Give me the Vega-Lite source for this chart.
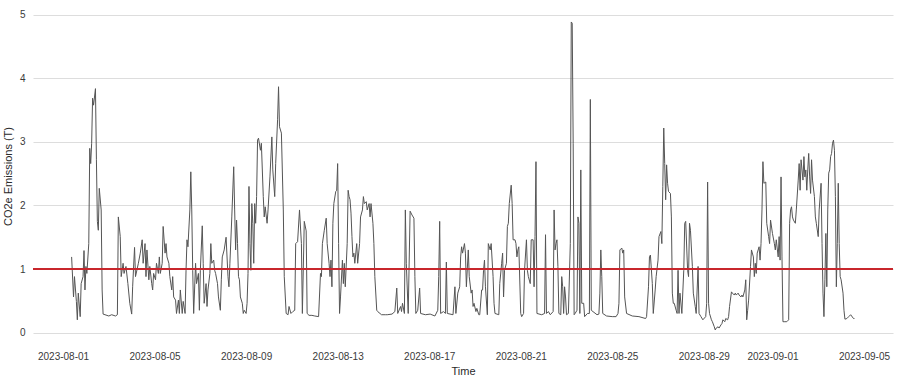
{
"$schema":"https://vega.github.io/schema/vega-lite/v6.json",
"width":860,"height":344,
"autosize":{"type":"none"},
"padding":{"left":33,"top":4,"right":7,"bottom":36},
"background":"white",
"config":{"view":{"stroke":null},"font":"Liberation Sans","axis":{"labelFont":"Liberation Sans","titleFont":"Liberation Sans","labelColor":"#3a3a3a","titleColor":"#2a2a2a","labelFontSize":10,"titleFontSize":11,"titleFontWeight":"normal"}},
"data":{"values":[
{"time":"2023-08-01T09:00","co2":1.19},{"time":"2023-08-01T11:00","co2":0.56},{"time":"2023-08-01T12:00","co2":0.88},{"time":"2023-08-01T14:00","co2":0.49},{"time":"2023-08-01T15:00","co2":0.20},{"time":"2023-08-01T16:00","co2":0.62},{"time":"2023-08-01T18:00","co2":0.25},{"time":"2023-08-01T19:00","co2":0.77},{"time":"2023-08-01T21:00","co2":0.88},{"time":"2023-08-01T22:00","co2":1.29},{"time":"2023-08-01T23:00","co2":0.67},
{"time":"2023-08-02T00:00","co2":1.04},{"time":"2023-08-02T01:00","co2":0.93},{"time":"2023-08-02T03:00","co2":1.40},{"time":"2023-08-02T04:00","co2":2.90},{"time":"2023-08-02T05:00","co2":2.66},{"time":"2023-08-02T06:00","co2":2.98},{"time":"2023-08-02T07:00","co2":3.69},{"time":"2023-08-02T08:00","co2":3.58},{"time":"2023-08-02T10:00","co2":3.84},{"time":"2023-08-02T11:00","co2":2.72},{"time":"2023-08-02T12:00","co2":1.75},{"time":"2023-08-02T13:00","co2":1.61},{"time":"2023-08-02T14:00","co2":2.27},{"time":"2023-08-02T16:00","co2":1.93},{"time":"2023-08-02T17:00","co2":0.67},{"time":"2023-08-02T18:00","co2":0.29},{"time":"2023-08-02T20:00","co2":0.28},
{"time":"2023-08-03T00:00","co2":0.26},{"time":"2023-08-03T03:00","co2":0.28},{"time":"2023-08-03T07:00","co2":0.26},{"time":"2023-08-03T09:00","co2":0.28},{"time":"2023-08-03T10:00","co2":1.82},{"time":"2023-08-03T12:00","co2":1.51},{"time":"2023-08-03T13:00","co2":0.88},{"time":"2023-08-03T15:00","co2":1.09},{"time":"2023-08-03T16:00","co2":0.93},{"time":"2023-08-03T18:00","co2":1.04},{"time":"2023-08-03T20:00","co2":0.77},{"time":"2023-08-03T22:00","co2":0.46},
{"time":"2023-08-04T00:00","co2":0.29},{"time":"2023-08-04T01:00","co2":0.72},{"time":"2023-08-04T03:00","co2":1.34},{"time":"2023-08-04T04:00","co2":0.88},{"time":"2023-08-04T07:00","co2":1.09},{"time":"2023-08-04T09:00","co2":1.25},{"time":"2023-08-04T11:00","co2":1.46},{"time":"2023-08-04T12:00","co2":1.09},{"time":"2023-08-04T14:00","co2":1.40},{"time":"2023-08-04T15:00","co2":0.88},{"time":"2023-08-04T16:00","co2":1.30},{"time":"2023-08-04T18:00","co2":0.83},{"time":"2023-08-04T19:00","co2":1.04},{"time":"2023-08-04T21:00","co2":0.77},{"time":"2023-08-04T22:00","co2":0.67},{"time":"2023-08-04T23:00","co2":0.93},
{"time":"2023-08-05T01:00","co2":0.83},{"time":"2023-08-05T02:00","co2":1.09},{"time":"2023-08-05T04:00","co2":0.93},{"time":"2023-08-05T05:00","co2":1.19},{"time":"2023-08-05T06:00","co2":0.93},{"time":"2023-08-05T08:00","co2":1.09},{"time":"2023-08-05T09:00","co2":1.67},{"time":"2023-08-05T11:00","co2":1.25},{"time":"2023-08-05T12:00","co2":1.40},{"time":"2023-08-05T13:00","co2":1.19},{"time":"2023-08-05T15:00","co2":1.09},{"time":"2023-08-05T16:00","co2":0.88},{"time":"2023-08-05T18:00","co2":0.67},{"time":"2023-08-05T19:00","co2":0.88},{"time":"2023-08-05T20:00","co2":0.56},{"time":"2023-08-05T22:00","co2":0.51},{"time":"2023-08-05T23:00","co2":0.30},
{"time":"2023-08-06T01:00","co2":0.51},{"time":"2023-08-06T02:00","co2":0.30},{"time":"2023-08-06T03:00","co2":0.67},{"time":"2023-08-06T05:00","co2":0.30},{"time":"2023-08-06T06:00","co2":0.49},{"time":"2023-08-06T08:00","co2":0.30},{"time":"2023-08-06T09:00","co2":0.98},{"time":"2023-08-06T10:00","co2":1.46},{"time":"2023-08-06T11:00","co2":1.35},{"time":"2023-08-06T13:00","co2":1.93},{"time":"2023-08-06T14:00","co2":2.53},{"time":"2023-08-06T15:00","co2":1.93},{"time":"2023-08-06T16:00","co2":0.98},{"time":"2023-08-06T17:00","co2":0.30},{"time":"2023-08-06T19:00","co2":1.09},{"time":"2023-08-06T20:00","co2":0.77},{"time":"2023-08-06T22:00","co2":0.93},{"time":"2023-08-06T23:00","co2":0.35},
{"time":"2023-08-07T00:00","co2":0.98},{"time":"2023-08-07T02:00","co2":1.68},{"time":"2023-08-07T03:00","co2":1.09},{"time":"2023-08-07T04:00","co2":0.46},{"time":"2023-08-07T06:00","co2":0.77},{"time":"2023-08-07T07:00","co2":0.41},{"time":"2023-08-07T08:00","co2":0.67},{"time":"2023-08-07T10:00","co2":0.93},{"time":"2023-08-07T11:00","co2":1.40},{"time":"2023-08-07T12:00","co2":1.09},{"time":"2023-08-07T14:00","co2":1.14},{"time":"2023-08-07T15:00","co2":0.98},{"time":"2023-08-07T16:00","co2":0.93},{"time":"2023-08-07T18:00","co2":0.77},{"time":"2023-08-07T19:00","co2":0.56},{"time":"2023-08-07T21:00","co2":0.35},{"time":"2023-08-07T22:00","co2":0.83},{"time":"2023-08-07T23:00","co2":1.19},
{"time":"2023-08-08T01:00","co2":1.30},{"time":"2023-08-08T03:00","co2":1.50},{"time":"2023-08-08T05:00","co2":0.88},{"time":"2023-08-08T06:00","co2":0.72},{"time":"2023-08-08T07:00","co2":1.09},{"time":"2023-08-08T09:00","co2":1.82},{"time":"2023-08-08T11:00","co2":2.61},{"time":"2023-08-08T12:00","co2":1.93},{"time":"2023-08-08T13:00","co2":1.30},{"time":"2023-08-08T14:00","co2":1.77},{"time":"2023-08-08T15:00","co2":1.40},{"time":"2023-08-08T16:00","co2":0.88},{"time":"2023-08-08T17:00","co2":0.83},{"time":"2023-08-08T18:00","co2":0.56},{"time":"2023-08-08T20:00","co2":0.46},{"time":"2023-08-08T21:00","co2":0.30},{"time":"2023-08-08T22:00","co2":0.35},
{"time":"2023-08-09T00:00","co2":0.30},{"time":"2023-08-09T01:00","co2":0.46},{"time":"2023-08-09T02:00","co2":0.93},{"time":"2023-08-09T03:00","co2":2.30},{"time":"2023-08-09T04:00","co2":1.40},{"time":"2023-08-09T05:00","co2":0.98},{"time":"2023-08-09T06:00","co2":2.03},{"time":"2023-08-09T07:00","co2":1.72},{"time":"2023-08-09T08:00","co2":1.09},{"time":"2023-08-09T09:00","co2":2.03},{"time":"2023-08-09T10:00","co2":1.72},{"time":"2023-08-09T11:00","co2":2.14},{"time":"2023-08-09T12:00","co2":3.03},{"time":"2023-08-09T13:00","co2":3.06},{"time":"2023-08-09T15:00","co2":2.87},{"time":"2023-08-09T16:00","co2":2.98},{"time":"2023-08-09T18:00","co2":2.14},{"time":"2023-08-09T19:00","co2":1.82},{"time":"2023-08-09T20:00","co2":1.98},{"time":"2023-08-09T22:00","co2":1.72},{"time":"2023-08-09T23:00","co2":1.93},
{"time":"2023-08-10T01:00","co2":2.45},{"time":"2023-08-10T03:00","co2":3.08},{"time":"2023-08-10T04:00","co2":2.56},{"time":"2023-08-10T06:00","co2":2.14},{"time":"2023-08-10T07:00","co2":2.66},{"time":"2023-08-10T09:00","co2":3.35},{"time":"2023-08-10T10:00","co2":3.87},{"time":"2023-08-10T11:00","co2":3.24},{"time":"2023-08-10T13:00","co2":3.14},{"time":"2023-08-10T15:00","co2":1.93},{"time":"2023-08-10T16:00","co2":0.88},{"time":"2023-08-10T18:00","co2":0.30},{"time":"2023-08-10T20:00","co2":0.28},{"time":"2023-08-10T21:00","co2":0.41},{"time":"2023-08-10T23:00","co2":0.30},
{"time":"2023-08-11T01:00","co2":0.33},{"time":"2023-08-11T03:00","co2":0.35},{"time":"2023-08-11T04:00","co2":1.40},{"time":"2023-08-11T06:00","co2":1.43},{"time":"2023-08-11T08:00","co2":1.93},{"time":"2023-08-11T10:00","co2":1.40},{"time":"2023-08-11T11:00","co2":0.30},{"time":"2023-08-11T13:00","co2":1.75},{"time":"2023-08-11T15:00","co2":1.60},{"time":"2023-08-11T16:00","co2":0.30},{"time":"2023-08-11T18:00","co2":0.27},{"time":"2023-08-11T21:00","co2":0.27},
{"time":"2023-08-12T00:00","co2":0.26},{"time":"2023-08-12T04:00","co2":0.25},{"time":"2023-08-12T06:00","co2":0.93},{"time":"2023-08-12T07:00","co2":0.88},{"time":"2023-08-12T08:00","co2":1.40},{"time":"2023-08-12T10:00","co2":1.61},{"time":"2023-08-12T12:00","co2":1.80},{"time":"2023-08-12T13:00","co2":1.40},{"time":"2023-08-12T15:00","co2":1.09},{"time":"2023-08-12T16:00","co2":0.88},{"time":"2023-08-12T17:00","co2":1.14},{"time":"2023-08-12T18:00","co2":0.72},{"time":"2023-08-12T19:00","co2":1.72},{"time":"2023-08-12T20:00","co2":2.03},{"time":"2023-08-12T22:00","co2":2.22},{"time":"2023-08-12T23:00","co2":2.24},
{"time":"2023-08-13T00:00","co2":2.66},{"time":"2023-08-13T01:00","co2":1.40},{"time":"2023-08-13T02:00","co2":0.30},{"time":"2023-08-13T03:00","co2":0.56},{"time":"2023-08-13T05:00","co2":1.14},{"time":"2023-08-13T06:00","co2":0.77},{"time":"2023-08-13T07:00","co2":1.09},{"time":"2023-08-13T08:00","co2":0.72},{"time":"2023-08-13T10:00","co2":1.40},{"time":"2023-08-13T11:00","co2":2.24},{"time":"2023-08-13T12:00","co2":2.14},{"time":"2023-08-13T13:00","co2":2.09},{"time":"2023-08-13T14:00","co2":1.88},{"time":"2023-08-13T15:00","co2":1.51},{"time":"2023-08-13T16:00","co2":1.19},{"time":"2023-08-13T17:00","co2":1.25},{"time":"2023-08-13T18:00","co2":1.09},{"time":"2023-08-13T20:00","co2":1.40},{"time":"2023-08-13T21:00","co2":1.09},{"time":"2023-08-13T23:00","co2":1.40},
{"time":"2023-08-14T00:00","co2":1.82},{"time":"2023-08-14T02:00","co2":1.93},{"time":"2023-08-14T03:00","co2":2.14},{"time":"2023-08-14T04:00","co2":2.03},{"time":"2023-08-14T06:00","co2":2.06},{"time":"2023-08-14T07:00","co2":1.93},{"time":"2023-08-14T09:00","co2":2.03},{"time":"2023-08-14T10:00","co2":1.82},{"time":"2023-08-14T11:00","co2":2.03},{"time":"2023-08-14T13:00","co2":1.72},{"time":"2023-08-14T14:00","co2":1.40},{"time":"2023-08-14T15:00","co2":0.88},{"time":"2023-08-14T17:00","co2":0.35},{"time":"2023-08-14T18:00","co2":0.33},{"time":"2023-08-14T22:00","co2":0.28},
{"time":"2023-08-15T02:00","co2":0.28},{"time":"2023-08-15T04:00","co2":0.28},{"time":"2023-08-15T09:00","co2":0.29},{"time":"2023-08-15T12:00","co2":0.33},{"time":"2023-08-15T14:00","co2":0.70},{"time":"2023-08-15T15:00","co2":0.30},{"time":"2023-08-15T18:00","co2":0.41},{"time":"2023-08-15T19:00","co2":0.33},{"time":"2023-08-15T20:00","co2":0.46},{"time":"2023-08-15T22:00","co2":0.30},{"time":"2023-08-15T23:00","co2":1.93},
{"time":"2023-08-16T00:00","co2":1.09},{"time":"2023-08-16T02:00","co2":0.30},{"time":"2023-08-16T04:00","co2":1.91},{"time":"2023-08-16T06:00","co2":1.85},{"time":"2023-08-16T08:00","co2":1.80},{"time":"2023-08-16T09:00","co2":0.88},{"time":"2023-08-16T10:00","co2":0.30},{"time":"2023-08-16T12:00","co2":0.35},{"time":"2023-08-16T14:00","co2":0.70},{"time":"2023-08-16T15:00","co2":0.30},{"time":"2023-08-16T20:00","co2":0.28},
{"time":"2023-08-17T01:00","co2":0.29},{"time":"2023-08-17T06:00","co2":0.26},{"time":"2023-08-17T09:00","co2":0.35},{"time":"2023-08-17T10:00","co2":0.88},{"time":"2023-08-17T11:00","co2":1.75},{"time":"2023-08-17T12:00","co2":0.30},{"time":"2023-08-17T15:00","co2":0.33},{"time":"2023-08-17T17:00","co2":0.30},{"time":"2023-08-17T18:00","co2":1.11},{"time":"2023-08-17T19:00","co2":0.30},
{"time":"2023-08-18T01:00","co2":0.28},{"time":"2023-08-18T03:00","co2":0.72},{"time":"2023-08-18T04:00","co2":0.30},{"time":"2023-08-18T06:00","co2":0.62},{"time":"2023-08-18T08:00","co2":0.72},{"time":"2023-08-18T09:00","co2":1.19},{"time":"2023-08-18T10:00","co2":1.35},{"time":"2023-08-18T11:00","co2":1.25},{"time":"2023-08-18T13:00","co2":1.40},{"time":"2023-08-18T14:00","co2":1.25},{"time":"2023-08-18T15:00","co2":0.72},{"time":"2023-08-18T17:00","co2":1.30},{"time":"2023-08-18T18:00","co2":0.88},{"time":"2023-08-18T20:00","co2":0.62},{"time":"2023-08-18T21:00","co2":0.67},{"time":"2023-08-18T22:00","co2":0.41},{"time":"2023-08-18T23:00","co2":0.46},
{"time":"2023-08-19T01:00","co2":0.33},{"time":"2023-08-19T02:00","co2":0.38},{"time":"2023-08-19T04:00","co2":0.28},{"time":"2023-08-19T05:00","co2":0.28},{"time":"2023-08-19T07:00","co2":0.67},{"time":"2023-08-19T08:00","co2":0.67},{"time":"2023-08-19T09:00","co2":0.98},{"time":"2023-08-19T10:00","co2":1.14},{"time":"2023-08-19T11:00","co2":0.72},{"time":"2023-08-19T13:00","co2":0.28},{"time":"2023-08-19T14:00","co2":1.40},{"time":"2023-08-19T16:00","co2":1.30},{"time":"2023-08-19T17:00","co2":1.40},{"time":"2023-08-19T19:00","co2":0.88},{"time":"2023-08-19T20:00","co2":0.46},{"time":"2023-08-19T21:00","co2":0.30},
{"time":"2023-08-20T01:00","co2":0.28},{"time":"2023-08-20T02:00","co2":0.77},{"time":"2023-08-20T04:00","co2":1.09},{"time":"2023-08-20T05:00","co2":1.25},{"time":"2023-08-20T06:00","co2":0.56},{"time":"2023-08-20T07:00","co2":0.98},{"time":"2023-08-20T09:00","co2":1.09},{"time":"2023-08-20T10:00","co2":1.67},{"time":"2023-08-20T11:00","co2":1.72},{"time":"2023-08-20T12:00","co2":2.03},{"time":"2023-08-20T14:00","co2":2.32},{"time":"2023-08-20T15:00","co2":2.03},{"time":"2023-08-20T16:00","co2":1.46},{"time":"2023-08-20T18:00","co2":1.46},{"time":"2023-08-20T19:00","co2":1.40},{"time":"2023-08-20T20:00","co2":1.19},{"time":"2023-08-20T21:00","co2":1.30},{"time":"2023-08-20T22:00","co2":1.35},
{"time":"2023-08-21T00:00","co2":0.30},{"time":"2023-08-21T01:00","co2":0.25},{"time":"2023-08-21T03:00","co2":0.30},{"time":"2023-08-21T04:00","co2":0.98},{"time":"2023-08-21T06:00","co2":1.46},{"time":"2023-08-21T07:00","co2":0.98},{"time":"2023-08-21T08:00","co2":0.88},{"time":"2023-08-21T10:00","co2":0.77},{"time":"2023-08-21T11:00","co2":1.46},{"time":"2023-08-21T13:00","co2":1.46},{"time":"2023-08-21T14:00","co2":0.72},{"time":"2023-08-21T15:00","co2":1.51},{"time":"2023-08-21T16:00","co2":2.69},{"time":"2023-08-21T17:00","co2":0.30},{"time":"2023-08-21T22:00","co2":0.28},
{"time":"2023-08-22T01:00","co2":0.30},{"time":"2023-08-22T02:00","co2":1.54},{"time":"2023-08-22T03:00","co2":0.30},{"time":"2023-08-22T05:00","co2":0.33},{"time":"2023-08-22T07:00","co2":0.28},{"time":"2023-08-22T10:00","co2":0.33},{"time":"2023-08-22T11:00","co2":1.93},{"time":"2023-08-22T12:00","co2":1.30},{"time":"2023-08-22T13:00","co2":1.40},{"time":"2023-08-22T14:00","co2":1.46},{"time":"2023-08-22T15:00","co2":1.04},{"time":"2023-08-22T16:00","co2":0.30},{"time":"2023-08-22T18:00","co2":0.28},{"time":"2023-08-22T19:00","co2":0.88},{"time":"2023-08-22T20:00","co2":0.72},{"time":"2023-08-22T21:00","co2":0.30},{"time":"2023-08-22T22:00","co2":0.72},{"time":"2023-08-22T23:00","co2":0.56},
{"time":"2023-08-23T00:00","co2":0.28},{"time":"2023-08-23T02:00","co2":0.30},{"time":"2023-08-23T04:00","co2":1.40},{"time":"2023-08-23T05:00","co2":4.89},{"time":"2023-08-23T06:00","co2":4.87},{"time":"2023-08-23T07:00","co2":2.98},{"time":"2023-08-23T08:00","co2":0.28},{"time":"2023-08-23T09:00","co2":0.30},{"time":"2023-08-23T11:00","co2":0.35},{"time":"2023-08-23T12:00","co2":1.82},{"time":"2023-08-23T13:00","co2":1.72},{"time":"2023-08-23T14:00","co2":0.30},{"time":"2023-08-23T15:00","co2":2.56},{"time":"2023-08-23T16:00","co2":0.46},{"time":"2023-08-23T18:00","co2":0.46},{"time":"2023-08-23T19:00","co2":0.25},{"time":"2023-08-23T22:00","co2":0.30},
{"time":"2023-08-24T00:00","co2":0.30},{"time":"2023-08-24T01:00","co2":3.67},{"time":"2023-08-24T02:00","co2":0.35},{"time":"2023-08-24T08:00","co2":0.28},{"time":"2023-08-24T10:00","co2":0.29},{"time":"2023-08-24T11:00","co2":0.62},{"time":"2023-08-24T12:00","co2":1.30},{"time":"2023-08-24T13:00","co2":0.88},{"time":"2023-08-24T14:00","co2":0.30},{"time":"2023-08-24T18:00","co2":0.26},
{"time":"2023-08-25T00:00","co2":0.25},{"time":"2023-08-25T04:00","co2":0.25},{"time":"2023-08-25T06:00","co2":0.30},{"time":"2023-08-25T07:00","co2":0.46},{"time":"2023-08-25T08:00","co2":1.30},{"time":"2023-08-25T10:00","co2":1.33},{"time":"2023-08-25T11:00","co2":1.25},{"time":"2023-08-25T12:00","co2":1.30},{"time":"2023-08-25T13:00","co2":0.56},{"time":"2023-08-25T15:00","co2":0.30},{"time":"2023-08-25T21:00","co2":0.26},
{"time":"2023-08-26T04:00","co2":0.25},{"time":"2023-08-26T11:00","co2":0.22},{"time":"2023-08-26T12:00","co2":0.25},{"time":"2023-08-26T14:00","co2":0.72},{"time":"2023-08-26T15:00","co2":1.19},{"time":"2023-08-26T16:00","co2":1.22},{"time":"2023-08-26T18:00","co2":0.77},{"time":"2023-08-26T19:00","co2":0.30},{"time":"2023-08-26T21:00","co2":0.67},{"time":"2023-08-26T22:00","co2":0.88},
{"time":"2023-08-27T00:00","co2":1.14},{"time":"2023-08-27T01:00","co2":1.51},{"time":"2023-08-27T03:00","co2":1.59},{"time":"2023-08-27T04:00","co2":1.40},{"time":"2023-08-27T05:00","co2":2.30},{"time":"2023-08-27T06:00","co2":3.22},{"time":"2023-08-27T07:00","co2":2.66},{"time":"2023-08-27T08:00","co2":2.09},{"time":"2023-08-27T09:00","co2":2.64},{"time":"2023-08-27T10:00","co2":2.35},{"time":"2023-08-27T11:00","co2":2.22},{"time":"2023-08-27T13:00","co2":2.19},{"time":"2023-08-27T14:00","co2":1.82},{"time":"2023-08-27T15:00","co2":0.62},{"time":"2023-08-27T16:00","co2":0.46},{"time":"2023-08-27T17:00","co2":0.46},{"time":"2023-08-27T19:00","co2":0.35},{"time":"2023-08-27T20:00","co2":0.30},{"time":"2023-08-27T21:00","co2":0.98},{"time":"2023-08-27T22:00","co2":0.30},{"time":"2023-08-27T23:00","co2":0.62},
{"time":"2023-08-28T01:00","co2":0.30},{"time":"2023-08-28T03:00","co2":0.98},{"time":"2023-08-28T04:00","co2":1.72},{"time":"2023-08-28T05:00","co2":1.75},{"time":"2023-08-28T07:00","co2":0.98},{"time":"2023-08-28T08:00","co2":0.88},{"time":"2023-08-28T09:00","co2":1.72},{"time":"2023-08-28T10:00","co2":1.61},{"time":"2023-08-28T12:00","co2":1.04},{"time":"2023-08-28T13:00","co2":0.62},{"time":"2023-08-28T15:00","co2":0.41},{"time":"2023-08-28T16:00","co2":0.30},{"time":"2023-08-28T18:00","co2":1.04},{"time":"2023-08-28T19:00","co2":0.30},{"time":"2023-08-28T21:00","co2":0.25},{"time":"2023-08-28T23:00","co2":0.20},
{"time":"2023-08-29T02:00","co2":0.25},{"time":"2023-08-29T03:00","co2":0.46},{"time":"2023-08-29T04:00","co2":2.37},{"time":"2023-08-29T05:00","co2":0.46},{"time":"2023-08-29T06:00","co2":0.30},{"time":"2023-08-29T08:00","co2":0.20},{"time":"2023-08-29T09:00","co2":0.17},{"time":"2023-08-29T11:00","co2":0.09},{"time":"2023-08-29T12:00","co2":0.04},{"time":"2023-08-29T13:00","co2":0.07},{"time":"2023-08-29T15:00","co2":0.09},{"time":"2023-08-29T16:00","co2":0.07},{"time":"2023-08-29T18:00","co2":0.12},{"time":"2023-08-29T19:00","co2":0.14},{"time":"2023-08-29T20:00","co2":0.20},{"time":"2023-08-29T22:00","co2":0.17},{"time":"2023-08-29T23:00","co2":0.22},
{"time":"2023-08-30T01:00","co2":0.20},{"time":"2023-08-30T02:00","co2":0.25},{"time":"2023-08-30T03:00","co2":0.41},{"time":"2023-08-30T05:00","co2":0.64},{"time":"2023-08-30T06:00","co2":0.62},{"time":"2023-08-30T08:00","co2":0.59},{"time":"2023-08-30T09:00","co2":0.62},{"time":"2023-08-30T10:00","co2":0.59},{"time":"2023-08-30T12:00","co2":0.62},{"time":"2023-08-30T13:00","co2":0.59},{"time":"2023-08-30T15:00","co2":0.56},{"time":"2023-08-30T16:00","co2":0.59},{"time":"2023-08-30T17:00","co2":0.56},{"time":"2023-08-30T19:00","co2":0.67},{"time":"2023-08-30T20:00","co2":0.83},{"time":"2023-08-30T21:00","co2":0.20},{"time":"2023-08-30T22:00","co2":0.35},{"time":"2023-08-30T23:00","co2":0.51},
{"time":"2023-08-31T01:00","co2":1.04},{"time":"2023-08-31T02:00","co2":1.30},{"time":"2023-08-31T04:00","co2":1.19},{"time":"2023-08-31T05:00","co2":0.88},{"time":"2023-08-31T06:00","co2":1.09},{"time":"2023-08-31T07:00","co2":0.93},{"time":"2023-08-31T08:00","co2":1.25},{"time":"2023-08-31T10:00","co2":1.35},{"time":"2023-08-31T11:00","co2":1.14},{"time":"2023-08-31T12:00","co2":1.40},{"time":"2023-08-31T13:00","co2":1.93},{"time":"2023-08-31T14:00","co2":2.69},{"time":"2023-08-31T15:00","co2":2.35},{"time":"2023-08-31T17:00","co2":2.37},{"time":"2023-08-31T18:00","co2":1.72},{"time":"2023-08-31T20:00","co2":1.51},{"time":"2023-08-31T21:00","co2":1.40},{"time":"2023-08-31T22:00","co2":1.77},
{"time":"2023-09-01T00:00","co2":1.56},{"time":"2023-09-01T02:00","co2":1.40},{"time":"2023-09-01T03:00","co2":1.30},{"time":"2023-09-01T04:00","co2":1.46},{"time":"2023-09-01T06:00","co2":1.19},{"time":"2023-09-01T07:00","co2":1.51},{"time":"2023-09-01T08:00","co2":1.14},{"time":"2023-09-01T09:00","co2":2.45},{"time":"2023-09-01T10:00","co2":1.19},{"time":"2023-09-01T11:00","co2":0.17},{"time":"2023-09-01T13:00","co2":0.17},{"time":"2023-09-01T15:00","co2":0.17},{"time":"2023-09-01T17:00","co2":0.20},{"time":"2023-09-01T18:00","co2":1.72},{"time":"2023-09-01T19:00","co2":1.93},{"time":"2023-09-01T20:00","co2":1.98},{"time":"2023-09-01T21:00","co2":1.82},{"time":"2023-09-01T22:00","co2":1.77},
{"time":"2023-09-02T00:00","co2":1.72},{"time":"2023-09-02T01:00","co2":1.93},{"time":"2023-09-02T03:00","co2":2.40},{"time":"2023-09-02T04:00","co2":2.66},{"time":"2023-09-02T05:00","co2":2.24},{"time":"2023-09-02T06:00","co2":2.72},{"time":"2023-09-02T08:00","co2":2.40},{"time":"2023-09-02T09:00","co2":2.77},{"time":"2023-09-02T10:00","co2":2.45},{"time":"2023-09-02T11:00","co2":2.56},{"time":"2023-09-02T12:00","co2":2.24},{"time":"2023-09-02T13:00","co2":2.56},{"time":"2023-09-02T14:00","co2":2.82},{"time":"2023-09-02T15:00","co2":2.45},{"time":"2023-09-02T16:00","co2":2.19},{"time":"2023-09-02T17:00","co2":2.72},{"time":"2023-09-02T18:00","co2":2.40},{"time":"2023-09-02T20:00","co2":2.14},{"time":"2023-09-02T21:00","co2":1.82},{"time":"2023-09-02T22:00","co2":1.72},
{"time":"2023-09-03T00:00","co2":1.51},{"time":"2023-09-03T01:00","co2":1.93},{"time":"2023-09-03T03:00","co2":2.35},{"time":"2023-09-03T04:00","co2":1.40},{"time":"2023-09-03T05:00","co2":0.62},{"time":"2023-09-03T06:00","co2":0.25},{"time":"2023-09-03T07:00","co2":0.83},{"time":"2023-09-03T08:00","co2":1.56},{"time":"2023-09-03T09:00","co2":0.72},{"time":"2023-09-03T10:00","co2":1.93},{"time":"2023-09-03T11:00","co2":2.51},{"time":"2023-09-03T12:00","co2":2.56},{"time":"2023-09-03T13:00","co2":2.77},{"time":"2023-09-03T14:00","co2":2.82},{"time":"2023-09-03T15:00","co2":2.98},{"time":"2023-09-03T16:00","co2":3.03},{"time":"2023-09-03T17:00","co2":2.87},{"time":"2023-09-03T18:00","co2":2.14},{"time":"2023-09-03T19:00","co2":0.72},{"time":"2023-09-03T20:00","co2":1.40},{"time":"2023-09-03T21:00","co2":2.35},{"time":"2023-09-03T22:00","co2":1.40},{"time":"2023-09-03T23:00","co2":0.88},
{"time":"2023-09-04T00:00","co2":0.83},{"time":"2023-09-04T02:00","co2":0.62},{"time":"2023-09-04T03:00","co2":0.35},{"time":"2023-09-04T04:00","co2":0.21},{"time":"2023-09-04T06:00","co2":0.22},{"time":"2023-09-04T08:00","co2":0.25},{"time":"2023-09-04T10:00","co2":0.28},{"time":"2023-09-04T11:00","co2":0.26},{"time":"2023-09-04T13:00","co2":0.22},{"time":"2023-09-04T14:00","co2":0.22}
]},
"layer":[
{"mark":{"type":"line","color":"#555555","strokeWidth":1,"interpolate":"linear"},
"encoding":{
"x":{"field":"time","type":"temporal",
"scale":{"domain":[{"year":2023,"month":7,"date":30,"hours":16,"minutes":30},{"year":2023,"month":9,"date":6,"hours":6,"minutes":25}]},
"axis":{"title":"Time","values":[{"year":2023,"month":8,"date":1},{"year":2023,"month":8,"date":5},{"year":2023,"month":8,"date":9},{"year":2023,"month":8,"date":13},{"year":2023,"month":8,"date":17},{"year":2023,"month":8,"date":21},{"year":2023,"month":8,"date":25},{"year":2023,"month":8,"date":29},{"year":2023,"month":9,"date":1},{"year":2023,"month":9,"date":5}],"format":"%Y-%m-%d","grid":false,"domain":false,"ticks":false,"labelPadding":3,"titlePadding":4,"labelOverlap":false,"labelFlush":false}},
"y":{"field":"co2","type":"quantitative",
"scale":{"domain":[-0.244,5.173],"nice":false,"zero":false},
"axis":{"title":"CO2e Emissions (T)","values":[0,1,2,3,4,5],"format":"d","domain":false,"ticks":false,"labelPadding":8,"titlePadding":6,"grid":true,"gridColor":"#dddddd","gridWidth":1}}
}},
{"mark":{"type":"rule","color":"#c8272c","strokeWidth":1.2},
"encoding":{"y":{"datum":1}}}
]
}
